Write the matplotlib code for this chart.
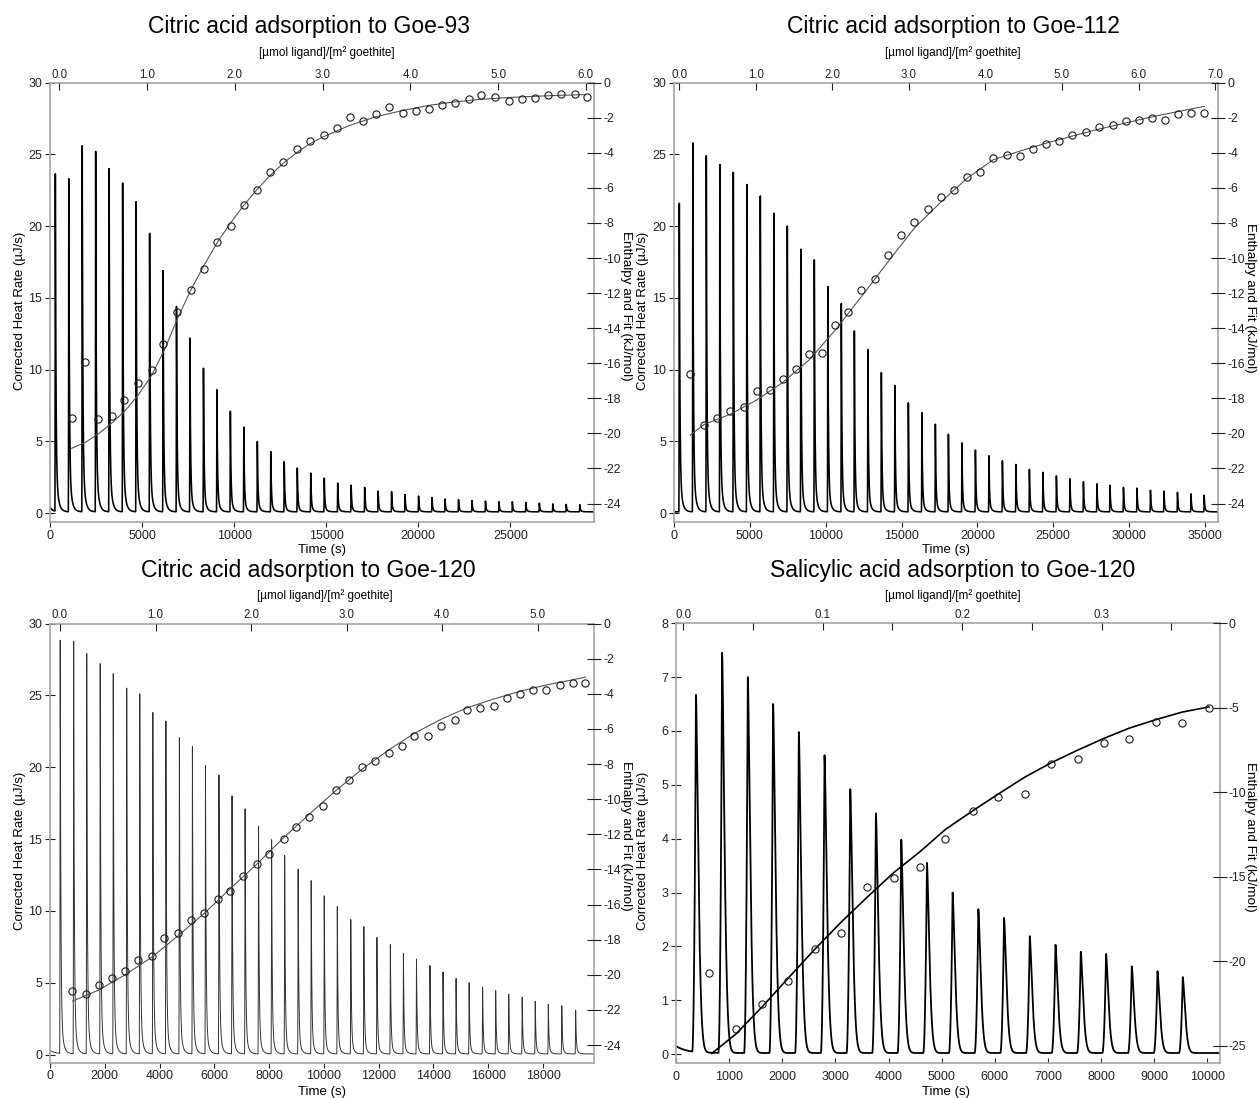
import numpy as np
import matplotlib
matplotlib.use("Agg")
import matplotlib.pyplot as plt
from matplotlib.ticker import MultipleLocator, FormatStrFormatter

plt.rcParams['font.family'] = ['Liberation Sans', 'DejaVu Sans']
plt.rcParams['axes.unicode_minus'] = False

# ---------------- data ----------------
TITLES = ["Citric acid adsorption to Goe-93", "Citric acid adsorption to Goe-112",
          "Citric acid adsorption to Goe-120", "Salicylic acid adsorption to Goe-120"]
TOP_LABEL = "[µmol ligand]/[m² goethite]"
HEAT_LABEL = "Corrected Heat Rate (µJ/s)"
ENTH_LABEL = "Enthalpy and Fit (kJ/mol)"
TIME_LABEL = "Time (s)"

# Panel 1 : Goe-93
P1_INJ_T = [290, 1020, 1750, 2480, 3210, 3945, 4675, 5410, 6140, 6870, 7600, 8335, 9065,
            9795, 10525, 11260, 11990, 12720, 13430, 14160, 14895, 15625, 16355, 17090,
            17820, 18550, 19280, 20015, 20745, 21455, 22185, 22915, 23650, 24380, 25110,
            25840, 26575, 27305, 28035, 28770]
P1_PEAK = [23.6, 23.3, 25.6, 25.2, 24.0, 23.0, 21.7, 19.5, 16.9, 14.4, 12.2, 10.1, 8.6, 7.1,
           6.0, 5.0, 4.3, 3.6, 3.15, 2.8, 2.45, 2.1, 1.95, 1.8, 1.55, 1.5, 1.3, 1.2, 1.1, 1.0,
           0.95, 0.9, 0.85, 0.8, 0.8, 0.75, 0.7, 0.65, 0.62, 0.6]
P1_CONC = [0.14, 0.29, 0.44, 0.60, 0.74, 0.90, 1.05, 1.18, 1.34, 1.50, 1.65, 1.80, 1.95, 2.10,
           2.25, 2.40, 2.55, 2.71, 2.86, 3.01, 3.16, 3.31, 3.46, 3.61, 3.76, 3.91, 4.06, 4.21,
           4.36, 4.51, 4.67, 4.81, 4.96, 5.12, 5.27, 5.42, 5.57, 5.72, 5.87, 6.01]
P1_DH = [-19.1, -15.9, -19.2, -19.0, -18.1, -17.1, -16.4, -14.9, -13.1, -11.8, -10.6, -9.1,
         -8.2, -7.0, -6.1, -5.1, -4.5, -3.8, -3.3, -3.0, -2.6, -1.95, -2.2, -1.8, -1.4, -1.7,
         -1.6, -1.5, -1.3, -1.15, -0.95, -0.7, -0.8, -1.05, -0.95, -0.85, -0.7, -0.65, -0.67, -0.8]
P1_FIT_C = [0.14, 0.30, 0.45, 0.60, 0.75, 0.90, 1.05, 1.20, 1.35, 1.50, 1.65, 1.80, 1.95, 2.10,
            2.25, 2.40, 2.55, 2.70, 2.85, 3.00, 3.30, 3.60, 3.90, 4.20, 4.50, 4.80, 5.10, 5.40,
            5.70, 6.00]
P1_FIT_H = [-20.85, -20.5, -20.0, -19.4, -18.7, -17.8, -16.7, -15.2, -13.4, -11.8, -10.4, -9.1,
            -8.0, -7.0, -6.1, -5.3, -4.6, -4.0, -3.5, -3.1, -2.45, -1.95, -1.6, -1.3, -1.1,
            -0.95, -0.85, -0.78, -0.72, -0.68]

# Panel 2 : Goe-112
P2_INJ_T = [350, 1240, 2130, 3020, 3910, 4800, 5690, 6580, 7470, 8360, 9250, 10140, 11030,
            11890, 12780, 13670, 14560, 15450, 16340, 17230, 18090, 18980, 19870, 20760,
            21650, 22540, 23430, 24320, 25210, 26100, 26990, 27880, 28740, 29630, 30520,
            31410, 32300, 33190, 34080, 34950]
P2_PEAK = [21.6, 25.8, 24.9, 24.3, 23.75, 22.9, 22.1, 20.9, 20.0, 18.4, 17.65, 15.8, 14.6,
           12.7, 11.4, 9.8, 8.9, 7.7, 7.0, 6.2, 5.5, 4.9, 4.4, 4.0, 3.65, 3.4, 3.05, 2.85, 2.6,
           2.4, 2.2, 2.05, 1.95, 1.8, 1.75, 1.6, 1.55, 1.45, 1.35, 1.25]
P2_CONC = [0.144, 0.32, 0.50, 0.67, 0.84, 1.01, 1.18, 1.35, 1.52, 1.70, 1.87, 2.04, 2.21, 2.38,
           2.56, 2.73, 2.90, 3.07, 3.25, 3.42, 3.59, 3.76, 3.93, 4.10, 4.28, 4.45, 4.62, 4.79,
           4.96, 5.13, 5.31, 5.48, 5.66, 5.83, 6.00, 6.17, 6.34, 6.51, 6.68, 6.86]
P2_DH = [-16.6, -19.5, -19.1, -18.7, -18.5, -17.6, -17.5, -16.9, -16.3, -15.5, -15.4, -13.8,
         -13.1, -11.8, -11.2, -9.8, -8.7, -7.95, -7.2, -6.5, -6.1, -5.4, -5.1, -4.3, -4.15, -4.2,
         -3.8, -3.5, -3.3, -3.0, -2.8, -2.55, -2.4, -2.2, -2.1, -2.0, -2.15, -1.8, -1.7, -1.75]
P2_FIT_C = [0.144, 0.32, 0.67, 1.01, 1.35, 1.70, 2.04, 2.38, 2.73, 3.07, 3.42, 3.76, 4.10, 4.45,
            4.79, 5.13, 5.48, 5.83, 6.17, 6.51, 6.86]
P2_FIT_H = [-20.1, -19.5, -18.9, -18.1, -17.1, -15.8, -14.1, -12.2, -10.2, -8.3, -6.8, -5.45,
            -4.4, -3.9, -3.45, -3.05, -2.65, -2.3, -1.95, -1.65, -1.35]

# Panel 3 : Goe-120 citric
P3_INJ_T = [373, 864, 1341, 1833, 2310, 2801, 3278, 3755, 4232, 4724, 5200, 5677, 6169, 6646,
            7123, 7614, 8091, 8568, 9060, 9537, 10013, 10490, 10982, 11459, 11936, 12427,
            12904, 13381, 13873, 14350, 14826, 15303, 15795, 16272, 16749, 17240, 17717,
            18194, 18686, 19192]
P3_PEAK = [28.8, 28.75, 27.9, 27.2, 26.5, 25.5, 25.1, 23.8, 23.2, 22.05, 21.45, 20.1, 19.45,
           18.0, 17.1, 15.9, 14.95, 13.85, 12.9, 12.1, 11.05, 10.3, 9.4, 8.9, 8.15, 7.65, 7.05,
           6.65, 6.2, 5.75, 5.3, 5.0, 4.7, 4.45, 4.2, 4.0, 3.7, 3.5, 3.4, 3.1]
P3_CONC = [0.13, 0.27, 0.41, 0.54, 0.68, 0.82, 0.96, 1.09, 1.23, 1.37, 1.51, 1.65, 1.78, 1.92,
           2.06, 2.19, 2.34, 2.47, 2.61, 2.75, 2.89, 3.02, 3.16, 3.30, 3.44, 3.58, 3.71, 3.85,
           3.99, 4.13, 4.26, 4.40, 4.54, 4.68, 4.82, 4.95, 5.09, 5.23, 5.37, 5.50]
P3_DH = [-20.9, -21.1, -20.55, -20.2, -19.8, -19.15, -18.95, -17.9, -17.6, -16.9, -16.5, -15.7,
         -15.2, -14.4, -13.7, -13.1, -12.25, -11.6, -11.0, -10.4, -9.45, -8.9, -8.15, -7.8,
         -7.35, -7.0, -6.4, -6.4, -5.85, -5.5, -4.9, -4.8, -4.7, -4.25, -4.0, -3.8, -3.8, -3.5,
         -3.4, -3.4]
P3_FIT_C = [0.13, 0.41, 0.68, 0.96, 1.23, 1.51, 1.78, 2.06, 2.34, 2.61, 2.89, 3.16, 3.44, 3.71,
            3.99, 4.26, 4.54, 4.82, 5.09, 5.37, 5.50]
P3_FIT_H = [-21.5, -20.85, -20.0, -19.0, -17.8, -16.5, -15.1, -13.7, -12.2, -10.85, -9.5, -8.3,
            -7.2, -6.25, -5.45, -4.8, -4.3, -3.85, -3.5, -3.2, -3.05]

# Panel 4 : Goe-120 salicylic
P4_INJ_T = [376, 868, 1352, 1828, 2312, 2796, 3280, 3763, 4240, 4724, 5207, 5691, 6175, 6659,
            7143, 7619, 8095, 8579, 9063, 9539]
P4_PEAK = [6.65, 7.45, 7.0, 6.5, 5.98, 5.55, 4.92, 4.47, 3.98, 3.55, 3.0, 2.69, 2.53, 2.19,
           2.03, 1.90, 1.86, 1.63, 1.54, 1.43]
P4_CONC = [0.0184, 0.0378, 0.0565, 0.0752, 0.0942, 0.113, 0.132, 0.151, 0.170, 0.188, 0.2075,
           0.226, 0.245, 0.264, 0.283, 0.302, 0.320, 0.339, 0.358, 0.377]
P4_DH = [-20.7, -24.0, -22.5, -21.15, -19.3, -18.3, -15.6, -15.1, -14.4, -12.75, -11.1, -10.3,
         -10.1, -8.35, -8.05, -7.1, -6.85, -5.85, -5.9, -5.0]
P4_FIT_C = [0.0205, 0.0378, 0.0565, 0.0752, 0.0942, 0.113, 0.132, 0.151, 0.170, 0.188, 0.2075,
            0.226, 0.245, 0.264, 0.283, 0.302, 0.320, 0.339, 0.358, 0.377]
P4_FIT_H = [-25.45, -24.3, -22.7, -21.0, -19.3, -17.7, -16.2, -14.75, -13.5, -12.2, -11.1,
            -10.1, -9.1, -8.25, -7.5, -6.8, -6.2, -5.7, -5.25, -4.95]

# ---------------- figure ----------------
W, H = 1259, 1098
fig = plt.figure(figsize=(W / 100, H / 100), dpi=100)


def rect(l, r, t, b):
    return [l / W, 1 - b / H, (r - l) / W, (b - t) / H]


def fx(px):
    return px / W


def fy(py):
    return 1 - py / H


def heat_trace(t, inj_t, peaks, b0, b1, settle, rise, tau, power, w_slow, tau_slow):
    y = b1 + (b0 - b1) * np.exp(-t / settle)
    for ti, hi in zip(inj_t, peaks):
        amp = hi - b1
        dt = t - ti
        up = (dt > -rise) & (dt <= 0)
        y[up] += amp * ((dt[up] + rise) / rise) ** 2
        dn = dt > 0
        y[dn] += amp * ((1 - w_slow) * np.exp(-(dt[dn] / tau) ** power)
                        + w_slow * np.exp(-dt[dn] / tau_slow))
    return y


panels = [
    dict(title=TITLES[0], inj=P1_INJ_T, peak=P1_PEAK, conc=P1_CONC, dh=P1_DH,
         fc=P1_FIT_C, fh=P1_FIT_H, rect=rect(50, 594, 82.7, 522.3),
         tmax=29543, hlim=(-0.63, 30), elim=(-25.07, 0), clim=(-0.107, 6.092),
         hstep=5, tstep=5000, estep=2, cmaj=1.0, cmin=None,
         trace=dict(b0=0.42, b1=0.1, settle=150, rise=25, tau=32, power=1.0, w_slow=0.15, tau_slow=120),
         tlw=1.15, tcol='black', flw=0.8, fcol='#555555', bdir='out',
         title_xy=(309, 27), sub_xy=(327, 53), hl_xy=(19.6, 311), el_xy=(626.5, 306),
         tl_xy=(322, 550)),
    dict(title=TITLES[1], inj=P2_INJ_T, peak=P2_PEAK, conc=P2_CONC, dh=P2_DH,
         fc=P2_FIT_C, fh=P2_FIT_H, rect=rect(674, 1218, 82.7, 522.3),
         tmax=35862, hlim=(-0.63, 30), elim=(-25.07, 0), clim=(-0.068, 7.038),
         hstep=5, tstep=5000, estep=2, cmaj=1.0, cmin=None,
         trace=dict(b0=0.1, b1=0.1, settle=150, rise=30, tau=38, power=1.0, w_slow=0.15, tau_slow=140),
         tlw=1.15, tcol='black', flw=0.8, fcol='#555555', bdir='out',
         title_xy=(953, 27), sub_xy=(953, 53), hl_xy=(643, 311), el_xy=(1250, 298),
         tl_xy=(946.5, 550)),
    dict(title=TITLES[2], inj=P3_INJ_T, peak=P3_PEAK, conc=P3_CONC, dh=P3_DH,
         fc=P3_FIT_C, fh=P3_FIT_H, rect=rect(50, 594, 623.5, 1062.7),
         tmax=19862, hlim=(-0.56, 30), elim=(-25.0, 0), clim=(-0.105, 5.59),
         hstep=5, tstep=2000, estep=2, cmaj=1.0, cmin=None,
         trace=dict(b0=0.3, b1=0.05, settle=200, rise=20, tau=22, power=1.0, w_slow=0.12, tau_slow=80),
         tlw=0.7, tcol='#333333', flw=0.8, fcol='#555555', bdir='out',
         title_xy=(308, 570.6), sub_xy=(325, 596), hl_xy=(19.6, 851), el_xy=(626.5, 836),
         tl_xy=(322, 1091.7)),
    dict(title=TITLES[3], inj=P4_INJ_T, peak=P4_PEAK, conc=P4_CONC, dh=P4_DH,
         fc=P4_FIT_C, fh=P4_FIT_H, rect=rect(676, 1219.5, 623.3, 1062.7),
         tmax=10230, hlim=(-0.16, 8), elim=(-26.0, 0), clim=(-0.0052, 0.3846),
         hstep=1, tstep=1000, estep=5, cmaj=0.1, cmin=0.05,
         trace=dict(b0=0.15, b1=0.02, settle=200, rise=70, tau=62, power=1.5, w_slow=0.0, tau_slow=100),
         tlw=1.3, tcol='black', flw=1.2, fcol='black', bdir='in',
         title_xy=(953, 570.6), sub_xy=(953, 596), hl_xy=(643, 851), el_xy=(1250, 837),
         tl_xy=(946.5, 1091.7)),
]

SPINE = '#a6a6a6'
TICK = '#222222'

for p in panels:
    ax = fig.add_axes(p['rect'])
    t = np.union1d(np.linspace(0, p['tmax'], 24000), np.asarray(p['inj'], float))
    y = heat_trace(t, p['inj'], p['peak'], **p['trace'])
    ax.plot(t, y, color=p['tcol'], lw=p['tlw'], zorder=2)
    ax.set_xlim(0, p['tmax'])
    ax.set_ylim(*p['hlim'])
    ax.xaxis.set_major_locator(MultipleLocator(p['tstep']))
    ax.yaxis.set_major_locator(MultipleLocator(p['hstep']))
    ax.xaxis.set_major_formatter(FormatStrFormatter('%d'))
    ax.yaxis.set_major_formatter(FormatStrFormatter('%d'))
    for s in ax.spines.values():
        s.set_color(SPINE)
        s.set_linewidth(1.2)
    ax.tick_params(axis='y', direction='inout', length=7, width=0.8, colors=TICK,
                   labelsize=9, pad=2, right=False)
    bpad = 2 if p['bdir'] == 'out' else 6
    ax.tick_params(axis='x', direction=p['bdir'], length=3.5, width=0.8, colors=TICK,
                   labelsize=9, pad=bpad, top=False)

    axr = fig.add_axes(p['rect'], frameon=False)
    axr.patch.set_visible(False)
    axr.plot(p['fc'], p['fh'], color=p['fcol'], lw=p['flw'], zorder=3)
    axr.plot(p['conc'], p['dh'], linestyle='none', marker='o', ms=5.2, mfc='none',
             mec='#1a1a1a', mew=0.8, zorder=4)
    axr.set_xlim(*p['clim'])
    axr.set_ylim(*p['elim'])
    axr.xaxis.tick_top()
    axr.yaxis.tick_right()
    axr.xaxis.set_major_locator(MultipleLocator(p['cmaj']))
    if p['cmin']:
        axr.xaxis.set_minor_locator(MultipleLocator(p['cmin']))
    axr.xaxis.set_major_formatter(FormatStrFormatter('%.1f'))
    axr.yaxis.set_major_locator(MultipleLocator(p['estep']))
    axr.yaxis.set_major_formatter(FormatStrFormatter('%d'))
    axr.tick_params(axis='x', which='both', direction='in', length=4.8, width=0.8,
                    colors=TICK, labelsize=8.3, pad=1.5)
    axr.tick_params(axis='y', direction='inout', length=10, width=0.8, colors=TICK,
                    labelsize=8.7, pad=1.5)

    fig.text(fx(p['title_xy'][0]), fy(p['title_xy'][1]), p['title'], fontsize=16.5,
             ha='center', va='center')
    fig.text(fx(p['sub_xy'][0]), fy(p['sub_xy'][1]), TOP_LABEL, fontsize=8.5,
             ha='center', va='center')
    fig.text(fx(p['hl_xy'][0]), fy(p['hl_xy'][1]), HEAT_LABEL, fontsize=9.5,
             rotation=90, ha='center', va='center')
    fig.text(fx(p['el_xy'][0]), fy(p['el_xy'][1]), ENTH_LABEL, fontsize=9.7,
             rotation=270, ha='center', va='center')
    fig.text(fx(p['tl_xy'][0]), fy(p['tl_xy'][1]), TIME_LABEL, fontsize=9.5,
             ha='center', va='center')

fig.savefig("out.png", dpi=100)
